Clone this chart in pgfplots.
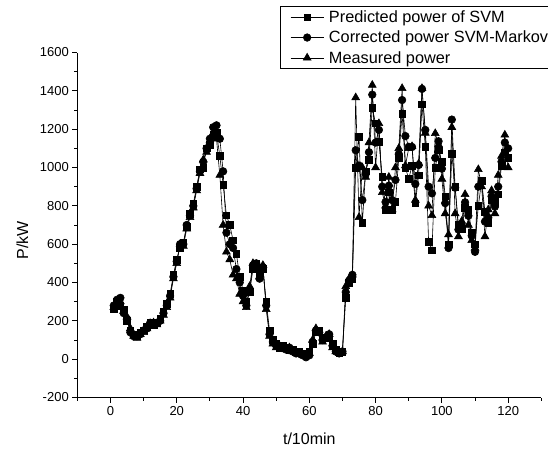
\documentclass[border=0pt]{standalone}
\usepackage{pgfplots}
\usepackage{pgfplotstable}
\usepackage{fontspec}
\setmainfont{Liberation Sans}
\pgfplotsset{compat=1.18}

% x  predicted(SVM)  corrected(SVM-Markov)  measured
\pgfplotstableread{
x pred corr meas
1 260 280 270
2 300 310 290
3 280 320 300
4 260 240 250
5 200 210 220
6 150 140 160
7 130 120 120
8 120 120 110
9 140 130 130
10 150 150 140
11 170 160 160
12 190 190 180
13 180 190 190
14 190 190 180
15 210 200 200
16 250 240 230
17 290 280 270
18 340 330 320
19 440 430 420
20 520 510 500
21 580 600 600
22 610 600 590
23 690 700 680
24 760 750 740
25 810 800 790
26 900 890 880
27 990 980 970
28 1000 1030 1040
29 1100 1100 1080
30 1120 1150 1140
31 1170 1210 1180
32 1180 1220 1150
33 1060 1150 960
34 910 980 700
35 750 660 560
36 700 600 520
37 620 580 440
38 550 470 420
39 430 400 340
40 360 330 300
41 300 280 270
42 350 360 380
43 470 490 500
44 500 500 480
45 450 420 430
46 470 480 490
47 300 280 260
48 150 130 120
49 100 90 80
50 80 70 60
51 60 60 70
52 70 60 60
53 60 50 50
54 50 60 60
55 50 40 40
56 40 30 40
57 40 30 30
58 30 20 20
59 30 10 20
60 40 20 30
61 80 90 100
62 140 150 160
63 150 140 140
64 110 100 90
65 110 110 120
66 120 130 130
67 80 70 60
68 50 40 40
69 30 30 30
70 40 40 40
71 320 350 380
72 400 410 420
73 420 440 440
74 1000 1090 1365
75 1160 1010 740
76 710 830 1000
77 980 965 950
78 1040 1080 1130
79 1310 1380 1430
80 1230 1130 1000
81 1135 1196 1230
82 950 900 870
83 780 820 800
84 870 905 950
85 780 830 780
86 820 935 1000
87 1050 1070 1100
88 1280 1352 1413
89 1000 1164 1010
90 940 1108 1100
91 1010 1107 1110
92 813 914 830
93 960 1013 1020
94 1330 1410 1413
95 1108 1196 1180
96 613 900 800
97 569 865 750
98 1000 1050 1178
99 1090 1137 1120
100 1030 994 940
101 850 814 760
102 600 580 650
103 1070 1250 1210
104 900 895 760
105 700 676 640
106 680 696 720
107 790 818 860
108 780 748 700
109 660 644 620
110 600 560 580
111 800 900 990
112 930 927 900
113 770 718 640
114 710 738 780
115 830 850 880
116 820 796 760
117 860 900 960
118 1010 1030 1060
119 1080 1130 1170
120 1050 1100 1000
}\datatable

\begin{document}
\begin{tikzpicture}
\begin{axis}[
    scale only axis,
    width=464pt, height=345pt,
    xmin=-10, xmax=130,
    ymin=-200, ymax=1600,
    axis x line*=bottom, axis y line*=left,
    xtick={0,20,...,120},
    minor xtick={-10,10,30,50,70,90,110,130},
    ytick={-200,0,...,1600},
    minor ytick={-100,100,...,1500},
    tick align=outside,
    major tick length=5pt, minor tick length=3pt,
    tick style={black, line width=0.8pt},
    axis line style={line width=0.8pt},
    tick label style={font=\fontsize{13}{15}\selectfont},
    /pgf/number format/assume math mode=true,
    /pgf/number format/1000 sep={},
    xlabel={t/10min}, ylabel={P/kW},
    every axis x label/.style={at={(rel axis cs:0.5,0)}, anchor=north, yshift=-35pt,
        inner sep=0pt, font=\fontsize{16}{18}\selectfont},
    every axis y label/.style={at={([xshift=-55pt]rel axis cs:0,0.456)}, rotate=90,
        anchor=center, inner sep=0pt, font=\fontsize{16}{18}\selectfont},
    legend style={at={(rel axis cs:0.437,1.134)}, anchor=north west,
        draw=black, line width=0.6pt, inner xsep=10pt, inner ysep=2pt,
        font=\fontsize{16.3}{19}\selectfont, row sep=3pt,
        /tikz/every odd column/.append style={column sep=3pt}},
    legend cell align=left,
    legend image code/.code={
        \draw[mark repeat=2, mark phase=2] plot coordinates {(0pt,0pt) (16.5pt,0pt) (33pt,0pt)};},
    every axis plot/.append style={black, line width=0.6pt},
    clip=false,
]
\addplot[mark=square*, mark size=3.3pt] table[x=x, y=pred] {\datatable};
\addlegendentry{Predicted power of SVM}
\addplot[mark=*, mark size=3.8pt] table[x=x, y=corr] {\datatable};
\addlegendentry{Corrected power SVM-Markov}
\addplot[mark=triangle*, mark size=4.5pt] table[x=x, y=meas] {\datatable};
\addlegendentry{Measured power}
\end{axis}
\pgfresetboundingbox
\path[use as bounding box] (-77.3pt,-50.5pt) rectangle (470.7pt,397.5pt);
\end{tikzpicture}
\end{document}
